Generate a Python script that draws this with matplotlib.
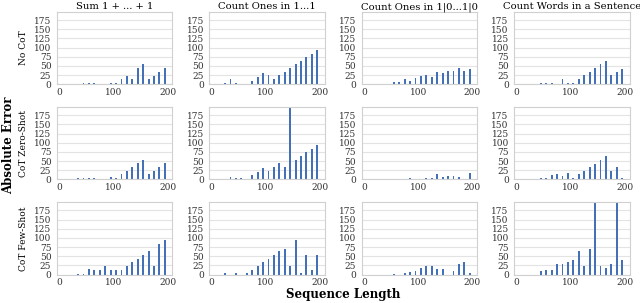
import matplotlib
matplotlib.use('Agg')
import matplotlib.pyplot as plt

tasks = ['Sum 1 + ... + 1', 'Count Ones in 1...1', 'Count Ones in 1|0...1|0', 'Count Words in a Sentence']
methods = ['No CoT', 'CoT Zero-Shot', 'CoT Few-Shot']

# bin centers (sequence length) and absolute error per bin, 0 = no bar
lengths = [5, 15, 25, 35, 45, 55, 65, 75, 85, 95, 105, 115, 125, 135, 145, 155, 165, 175, 185, 195]

nocot_sum = [0, 0, 0, 0, 3, 3, 3, 0, 0, 2, 3, 14, 23, 14, 44, 55, 14, 23, 34, 44]
nocot_ones = [0, 0, 2, 13, 3, 0, 0, 10, 20, 31, 24, 13, 24, 34, 44, 55, 64, 74, 83, 94]
nocot_bits = [0, 0, 0, 0, 0, 6, 7, 13, 10, 16, 23, 25, 20, 33, 30, 36, 37, 43, 36, 42]
nocot_words = [0, 0, 0, 0, 3, 3, 3, 0, 13, 3, 3, 13, 24, 34, 43, 55, 64, 24, 34, 42]

zs_sum = [0, 0, 0, 4, 4, 4, 4, 0, 0, 7, 4, 15, 24, 33, 44, 54, 15, 24, 33, 44]
zs_ones = [0, 0, 0, 7, 4, 4, 0, 11, 20, 30, 24, 33, 44, 33, 230, 54, 63, 74, 84, 94]
zs_bits = [0, 0, 0, 0, 0, 0, 0, 0, 3, 0, 0, 3, 4, 14, 6, 9, 8, 6, 0, 18]
zs_words = [0, 0, 0, 0, 3, 3, 13, 14, 9, 18, 4, 14, 24, 33, 43, 54, 63, 24, 33, 4]

fs_sum = [0, 0, 0, 2, 2, 14, 12, 12, 22, 12, 12, 12, 23, 33, 42, 54, 64, 23, 83, 94]
fs_ones = [0, 0, 5, 0, 4, 0, 4, 13, 24, 34, 43, 53, 65, 70, 24, 94, 4, 54, 13, 54]
fs_bits = [0, 0, 0, 0, 0, 2, 0, 5, 8, 10, 18, 24, 24, 15, 14, 0, 10, 29, 34, 4]
fs_words = [0, 0, 0, 0, 10, 12, 12, 30, 30, 34, 40, 65, 22, 70, 230, 24, 17, 29, 230, 40]

errors = [
    [nocot_sum, nocot_ones, nocot_bits, nocot_words],
    [zs_sum, zs_ones, zs_bits, zs_words],
    [fs_sum, fs_ones, fs_bits, fs_words],
]

plt.rcParams['font.family'] = 'DejaVu Serif'

fig, axes = plt.subplots(3, 4, figsize=(6.4, 3.03), dpi=100)
fig.subplots_adjust(left=0.089, right=0.984, top=0.96, bottom=0.094, wspace=0.32, hspace=0.32)

for r in range(3):
    for c in range(4):
        ax = axes[r, c]
        ax.bar(lengths, errors[r][c], width=3.5, color='#4470b8', zorder=2)
        ax.set_xlim(-4, 209)
        ax.set_ylim(0, 197)
        ax.set_xticks([0, 100, 200])
        ax.set_yticks(range(0, 176, 25))
        ax.tick_params(labelsize=6.5, length=0, colors='#333333')
        ax.tick_params(axis='y', pad=4)
        ax.tick_params(axis='x', pad=2.5)
        ax.grid(axis='y', color='#e3e3e3', linewidth=0.8, zorder=0)
        for s in ax.spines.values():
            s.set_color('#d0d0d0')
            s.set_linewidth(0.8)
        if r == 0:
            ax.set_title(tasks[c], fontsize=7.2, pad=2)
        if c == 0:
            ax.set_ylabel(methods[r], fontsize=6.5, labelpad=4)

fig.text(0.014, 0.52, 'Absolute Error', rotation=90, ha='center', va='center',
         fontsize=8.5, fontweight='bold')
fig.text(0.536, 0.008, 'Sequence Length', ha='center', va='bottom',
         fontsize=8.5, fontweight='bold')

fig.savefig('out.png', dpi=100)
